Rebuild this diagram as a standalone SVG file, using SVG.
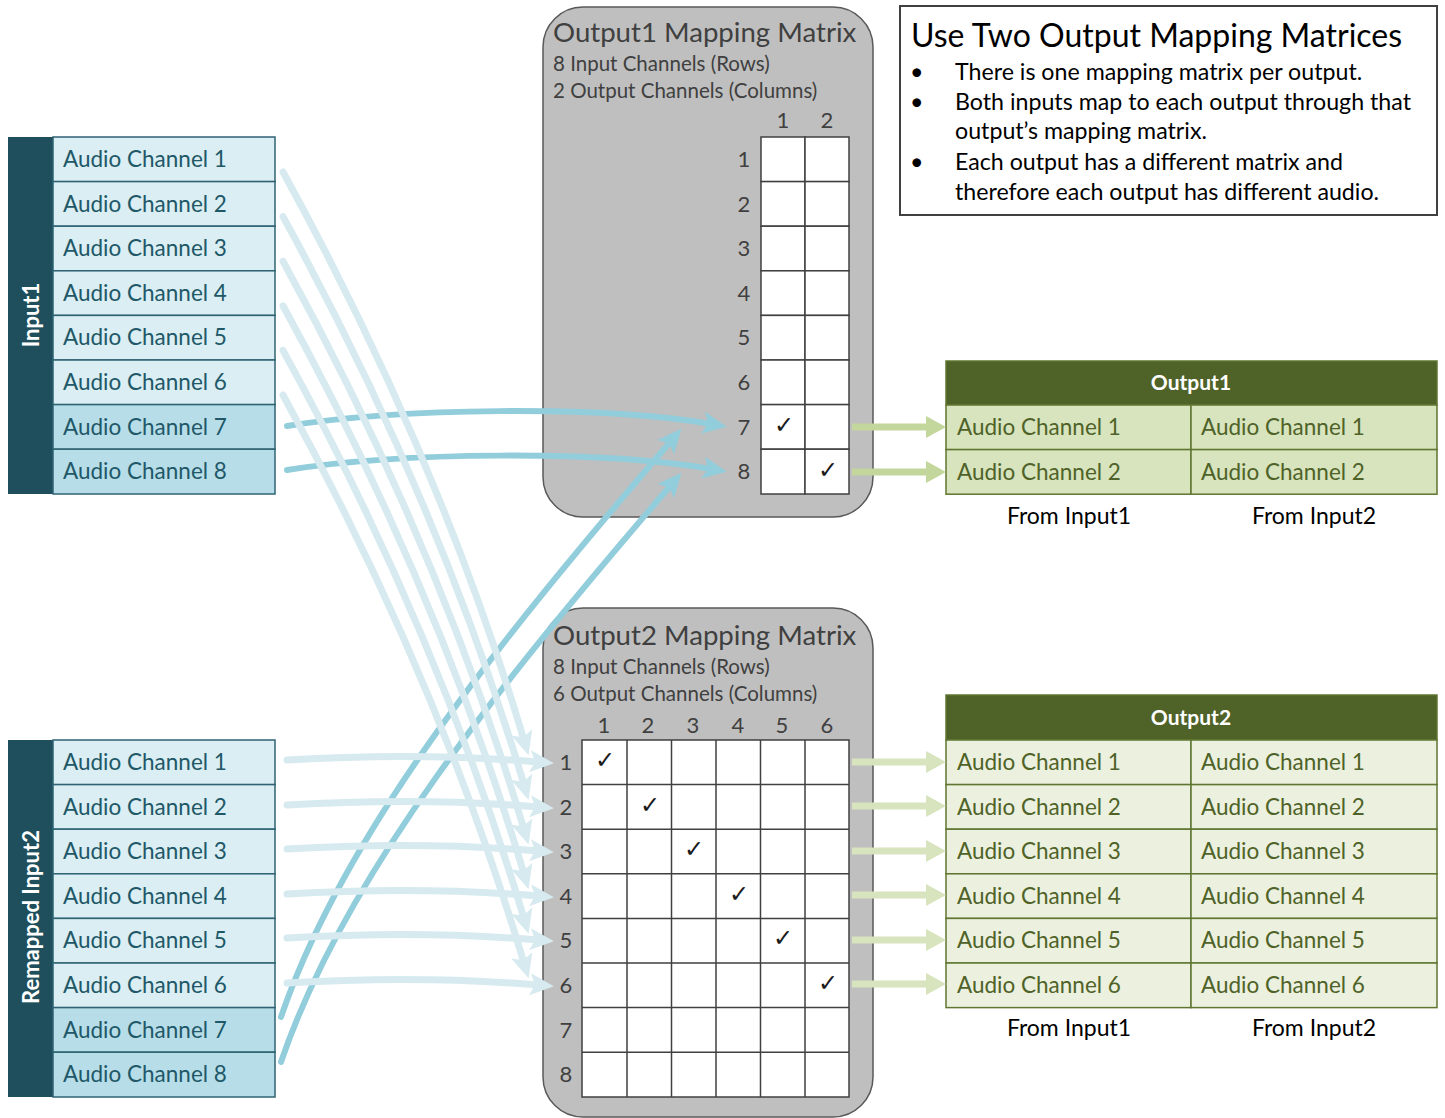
<svg xmlns="http://www.w3.org/2000/svg" width="1445" height="1118" viewBox="0 0 1445 1118">
<style>
text{font-family:Lato,"Liberation Sans",sans-serif}
.band{fill:#1f4f5c}
.cell{stroke:#2f6373;stroke-width:1.5}
.c1{fill:#daeef3}
.c2{fill:#b7dee8}
.ct{font-size:22.5px;fill:#215868}
.vlab{font-size:22px;font-weight:bold;fill:#fff}
.mbox{fill:#bfbfbf;stroke:#595959;stroke-width:1.5}
.mt{font-size:27.6px;fill:#404040}
.ms{font-size:20.5px;fill:#404040}
.num{font-size:22px;fill:#404040;text-anchor:middle}
.grid{fill:#fff;stroke:#404040;stroke-width:1.5}
.chk{font-family:"DejaVu Sans",sans-serif;font-size:24px;fill:#1a1a1a;text-anchor:middle}
.ohead{fill:#4f6228;stroke:#5f7530;stroke-width:1.5}
.oh{font-size:21px;font-weight:bold;fill:#fff;text-anchor:middle}
.o1{fill:#d7e4bd;stroke:#5f7530;stroke-width:1.5}
.o2{fill:#ebf1de;stroke:#5f7530;stroke-width:1.5}
.ot{font-size:22.5px;fill:#4f6228}
.from{font-size:23px;fill:#000;text-anchor:middle}
.bt{font-size:23.2px;fill:#000}
.dk{fill:none;stroke:#92cddc;stroke-width:6;stroke-linecap:round}
.lt{fill:none;stroke:#d6eaf0;stroke-width:7;stroke-linecap:round}
.g1{fill:none;stroke:#c3d69b;stroke-width:7}
.g2{fill:none;stroke:#d7e4bd;stroke-width:7}
</style>
<defs>
<marker id="ad" markerUnits="userSpaceOnUse" markerWidth="24" markerHeight="24" viewBox="0 0 24 24" refX="8" refY="12" orient="auto"><path d="M0,1 L24,12 L0,23 L5,12 z" fill="#92cddc"/></marker>
<marker id="al" markerUnits="userSpaceOnUse" markerWidth="24" markerHeight="24" viewBox="0 0 24 24" refX="8" refY="12" orient="auto"><path d="M0,1 L24,12 L0,23 L5,12 z" fill="#d6eaf0"/></marker>
<marker id="ag1" markerUnits="userSpaceOnUse" markerWidth="22" markerHeight="24" viewBox="0 0 22 24" refX="4" refY="12" orient="auto"><path d="M0,1 L20,12 L0,23 z" fill="#c3d69b"/></marker>
<marker id="ag2" markerUnits="userSpaceOnUse" markerWidth="22" markerHeight="24" viewBox="0 0 22 24" refX="4" refY="12" orient="auto"><path d="M0,1 L20,12 L0,23 z" fill="#d7e4bd"/></marker>
</defs>

<g id="input1">
<rect class="band" x="8" y="137" width="45" height="357"/>
<text class="vlab" text-anchor="middle" transform="translate(39,315) rotate(-90)">Input1</text>
<rect class="cell c1" x="53" y="137" width="222" height="44.6"/>
<rect class="cell c1" x="53" y="181.6" width="222" height="44.6"/>
<rect class="cell c1" x="53" y="226.2" width="222" height="44.6"/>
<rect class="cell c1" x="53" y="270.8" width="222" height="44.6"/>
<rect class="cell c1" x="53" y="315.4" width="222" height="44.6"/>
<rect class="cell c1" x="53" y="360" width="222" height="44.6"/>
<rect class="cell c2" x="53" y="404.6" width="222" height="44.6"/>
<rect class="cell c2" x="53" y="449.2" width="222" height="44.8"/>
<text class="ct" x="63" y="167">Audio Channel 1</text>
<text class="ct" x="63" y="212">Audio Channel 2</text>
<text class="ct" x="63" y="256">Audio Channel 3</text>
<text class="ct" x="63" y="301">Audio Channel 4</text>
<text class="ct" x="63" y="345">Audio Channel 5</text>
<text class="ct" x="63" y="390">Audio Channel 6</text>
<text class="ct" x="63" y="435">Audio Channel 7</text>
<text class="ct" x="63" y="479">Audio Channel 8</text>
</g>

<g id="input2">
<rect class="band" x="8" y="740" width="45" height="357"/>
<text class="vlab" text-anchor="middle" transform="translate(39,917) rotate(-90)" font-size="22.5px">Remapped Input2</text>
<rect class="cell c1" x="53" y="740" width="222" height="44.6"/>
<rect class="cell c1" x="53" y="784.6" width="222" height="44.6"/>
<rect class="cell c1" x="53" y="829.2" width="222" height="44.6"/>
<rect class="cell c1" x="53" y="873.8" width="222" height="44.6"/>
<rect class="cell c1" x="53" y="918.4" width="222" height="44.6"/>
<rect class="cell c1" x="53" y="963" width="222" height="44.6"/>
<rect class="cell c2" x="53" y="1007.6" width="222" height="44.6"/>
<rect class="cell c2" x="53" y="1052.2" width="222" height="44.8"/>
<text class="ct" x="63" y="770">Audio Channel 1</text>
<text class="ct" x="63" y="815">Audio Channel 2</text>
<text class="ct" x="63" y="859">Audio Channel 3</text>
<text class="ct" x="63" y="904">Audio Channel 4</text>
<text class="ct" x="63" y="948">Audio Channel 5</text>
<text class="ct" x="63" y="993">Audio Channel 6</text>
<text class="ct" x="63" y="1038">Audio Channel 7</text>
<text class="ct" x="63" y="1082">Audio Channel 8</text>
</g>

<g id="matrix1">
<rect class="mbox" x="543" y="7" width="330" height="510" rx="40"/>
<text class="mt" x="553" y="42">Output1 Mapping Matrix</text>
<text class="ms" x="553" y="71">8 Input Channels (Rows)</text>
<text class="ms" x="553" y="98">2 Output Channels (Columns)</text>
<text class="num" x="783" y="128">1</text>
<text class="num" x="827" y="128">2</text>
<g class="grid">
<rect x="761" y="137" width="44" height="44.6"/><rect x="805" y="137" width="44" height="44.6"/>
<rect x="761" y="181.6" width="44" height="44.6"/><rect x="805" y="181.6" width="44" height="44.6"/>
<rect x="761" y="226.2" width="44" height="44.6"/><rect x="805" y="226.2" width="44" height="44.6"/>
<rect x="761" y="270.8" width="44" height="44.6"/><rect x="805" y="270.8" width="44" height="44.6"/>
<rect x="761" y="315.4" width="44" height="44.6"/><rect x="805" y="315.4" width="44" height="44.6"/>
<rect x="761" y="360" width="44" height="44.6"/><rect x="805" y="360" width="44" height="44.6"/>
<rect x="761" y="404.6" width="44" height="44.6"/><rect x="805" y="404.6" width="44" height="44.6"/>
<rect x="761" y="449.2" width="44" height="44.8"/><rect x="805" y="449.2" width="44" height="44.8"/>
</g>
<text class="num" x="744" y="167">1</text>
<text class="num" x="744" y="212">2</text>
<text class="num" x="744" y="256">3</text>
<text class="num" x="744" y="301">4</text>
<text class="num" x="744" y="345">5</text>
<text class="num" x="744" y="390">6</text>
<text class="num" x="744" y="435">7</text>
<text class="num" x="744" y="479">8</text>
<text class="chk" x="784" y="433">✓</text>
<text class="chk" x="828" y="478">✓</text>
</g>

<g id="matrix2">
<rect class="mbox" x="543" y="608" width="330" height="509" rx="40"/>
<text class="mt" x="553" y="645">Output2 Mapping Matrix</text>
<text class="ms" x="553" y="674">8 Input Channels (Rows)</text>
<text class="ms" x="553" y="701">6 Output Channels (Columns)</text>
<text class="num" x="604" y="733">1</text>
<text class="num" x="648" y="733">2</text>
<text class="num" x="693" y="733">3</text>
<text class="num" x="738" y="733">4</text>
<text class="num" x="782" y="733">5</text>
<text class="num" x="827" y="733">6</text>
<rect class="grid" x="582" y="740" width="267" height="357"/>
<path d="M627,740V1097M671.5,740V1097M716,740V1097M760.5,740V1097M805,740V1097M582,784.6H849M582,829.2H849M582,873.8H849M582,918.4H849M582,963H849M582,1007.6H849M582,1052.2H849" fill="none" stroke="#404040" stroke-width="1.5"/>
<text class="num" x="566" y="770">1</text>
<text class="num" x="566" y="815">2</text>
<text class="num" x="566" y="859">3</text>
<text class="num" x="566" y="904">4</text>
<text class="num" x="566" y="948">5</text>
<text class="num" x="566" y="993">6</text>
<text class="num" x="566" y="1038">7</text>
<text class="num" x="566" y="1082">8</text>
<text class="chk" x="605" y="768">✓</text>
<text class="chk" x="650" y="813">✓</text>
<text class="chk" x="694" y="857">✓</text>
<text class="chk" x="739" y="902">✓</text>
<text class="chk" x="783" y="946">✓</text>
<text class="chk" x="828" y="991">✓</text>
</g>

<g id="notes">
<rect x="900" y="6" width="537" height="209" fill="#fff" stroke="#404040" stroke-width="2"/>
<text x="911" y="47" font-size="32px" fill="#000">Use Two Output Mapping Matrices</text>
<text class="bt" x="910" y="80">•</text>
<text class="bt" x="955" y="80">There is one mapping matrix per output.</text>
<text class="bt" x="910" y="110">•</text>
<text class="bt" x="955" y="110">Both inputs map to each output through that</text>
<text class="bt" x="955" y="139">output’s mapping matrix.</text>
<text class="bt" x="910" y="170">•</text>
<text class="bt" x="955" y="170">Each output has a different matrix and</text>
<text class="bt" x="955" y="200">therefore each output has different audio.</text>
</g>

<g id="output1">
<rect class="ohead" x="946" y="361" width="491" height="44"/>
<text class="oh" x="1191" y="390">Output1</text>
<rect class="o1" x="946" y="405" width="245" height="44.6"/>
<rect class="o1" x="1191" y="405" width="246" height="44.6"/>
<rect class="o1" x="946" y="449.6" width="245" height="44.6"/>
<rect class="o1" x="1191" y="449.6" width="246" height="44.6"/>
<text class="ot" x="957" y="435">Audio Channel 1</text>
<text class="ot" x="1201" y="435">Audio Channel 1</text>
<text class="ot" x="957" y="480">Audio Channel 2</text>
<text class="ot" x="1201" y="480">Audio Channel 2</text>
<text class="from" x="1069" y="524">From Input1</text>
<text class="from" x="1314" y="524">From Input2</text>
</g>

<g id="output2">
<rect class="ohead" x="946" y="695" width="491" height="45"/>
<text class="oh" x="1191" y="725">Output2</text>
<rect class="o2" x="946" y="740" width="245" height="44.6"/><rect class="o2" x="1191" y="740" width="246" height="44.6"/>
<rect class="o2" x="946" y="784.6" width="245" height="44.6"/><rect class="o2" x="1191" y="784.6" width="246" height="44.6"/>
<rect class="o2" x="946" y="829.2" width="245" height="44.6"/><rect class="o2" x="1191" y="829.2" width="246" height="44.6"/>
<rect class="o2" x="946" y="873.8" width="245" height="44.6"/><rect class="o2" x="1191" y="873.8" width="246" height="44.6"/>
<rect class="o2" x="946" y="918.4" width="245" height="44.6"/><rect class="o2" x="1191" y="918.4" width="246" height="44.6"/>
<rect class="o2" x="946" y="963" width="245" height="44.6"/><rect class="o2" x="1191" y="963" width="246" height="44.6"/>
<text class="ot" x="957" y="770">Audio Channel 1</text><text class="ot" x="1201" y="770">Audio Channel 1</text>
<text class="ot" x="957" y="815">Audio Channel 2</text><text class="ot" x="1201" y="815">Audio Channel 2</text>
<text class="ot" x="957" y="859">Audio Channel 3</text><text class="ot" x="1201" y="859">Audio Channel 3</text>
<text class="ot" x="957" y="904">Audio Channel 4</text><text class="ot" x="1201" y="904">Audio Channel 4</text>
<text class="ot" x="957" y="948">Audio Channel 5</text><text class="ot" x="1201" y="948">Audio Channel 5</text>
<text class="ot" x="957" y="993">Audio Channel 6</text><text class="ot" x="1201" y="993">Audio Channel 6</text>
<text class="from" x="1069" y="1036">From Input1</text>
<text class="from" x="1314" y="1036">From Input2</text>
</g>

<g id="connectors">
<path class="dk" marker-end="url(#ad)" d="M287,426 C400,408 600,405 711,424"/>
<path class="dk" marker-end="url(#ad)" d="M287,470 C400,452 600,450 711,469"/>
<path class="dk" marker-end="url(#ad)" d="M281,1017 C345,830 500,640 671,441"/>
<path class="dk" marker-end="url(#ad)" d="M281,1062 C345,874 500,684 671,485"/>
<path class="lt" marker-end="url(#al)" d="M283,172 Q438.6,455 524,740"/>
<path class="lt" marker-end="url(#al)" d="M283,216.6 Q438.6,499.6 524,784.6"/>
<path class="lt" marker-end="url(#al)" d="M283,261.2 Q438.6,544.2 524,829.2"/>
<path class="lt" marker-end="url(#al)" d="M283,305.8 Q438.6,588.8 524,873.8"/>
<path class="lt" marker-end="url(#al)" d="M283,350.4 Q438.6,633.4 524,918.4"/>
<path class="lt" marker-end="url(#al)" d="M283,395 Q438.6,678 524,963"/>
<path class="lt" marker-end="url(#al)" d="M287,760 Q420,752 538,762"/>
<path class="lt" marker-end="url(#al)" d="M287,805 Q420,797 538,807"/>
<path class="lt" marker-end="url(#al)" d="M287,849 Q420,841 538,851"/>
<path class="lt" marker-end="url(#al)" d="M287,894 Q420,886 538,896"/>
<path class="lt" marker-end="url(#al)" d="M287,938 Q420,930 538,940"/>
<path class="lt" marker-end="url(#al)" d="M287,983 Q420,975 538,985"/>
<path class="g1" marker-end="url(#ag1)" d="M852,427 H930"/>
<path class="g1" marker-end="url(#ag1)" d="M852,472 H930"/>
<path class="g2" marker-end="url(#ag2)" d="M852,762 H930"/>
<path class="g2" marker-end="url(#ag2)" d="M852,806 H930"/>
<path class="g2" marker-end="url(#ag2)" d="M852,851 H930"/>
<path class="g2" marker-end="url(#ag2)" d="M852,895 H930"/>
<path class="g2" marker-end="url(#ag2)" d="M852,940 H930"/>
<path class="g2" marker-end="url(#ag2)" d="M852,984 H930"/>
</g>
</svg>
